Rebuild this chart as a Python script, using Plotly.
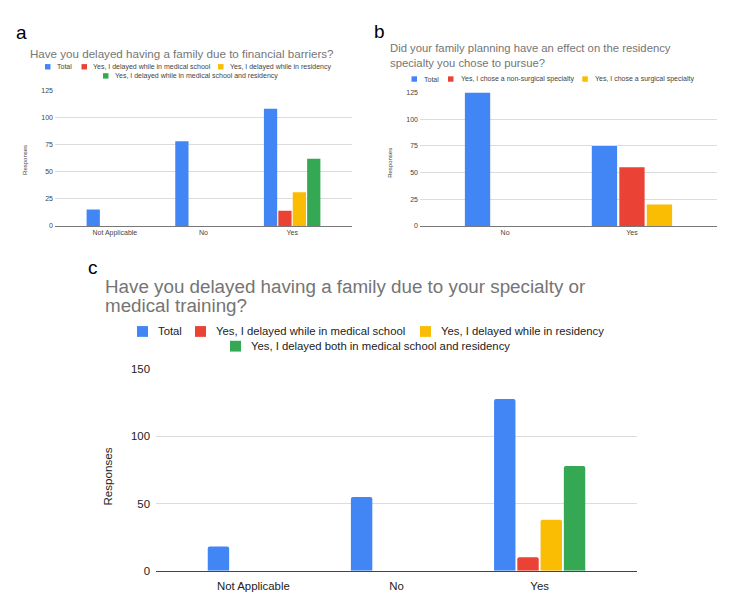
import plotly.graph_objects as go

W, H = 750, 610

# ---------------- data ----------------
cats_a = ["Not Applicable", "No", "Yes"]
names_a = ["Total", "Yes, I delayed while in medical school",
           "Yes, I delayed while in residency",
           "Yes, I delayed while in medical school and residency"]
a_total = [15, 78, 108]
a_med = [0, 0, 14]
a_res = [0, 0, 31]
a_both = [0, 0, 62]

cats_b = ["No", "Yes"]
names_b = ["Total", "Yes, I chose a non-surgical specialty", "Yes, I chose a surgical specialty"]
b_total = [125, 75]
b_nonsurg = [0, 55]
b_surg = [0, 20]

cats_c = ["Not Applicable", "No", "Yes"]
names_c = ["Total", "Yes, I delayed while in medical school",
           "Yes, I delayed while in residency",
           "Yes, I delayed both in medical school and residency"]
c_total = [18, 55, 128]
c_med = [0, 0, 10]
c_res = [0, 0, 38]
c_both = [0, 0, 78]

ticks_ab = [0, 25, 50, 75, 100, 125]
ticks_c = [0, 50, 100, 150]

title_a = ["Have you delayed having a family due to financial barriers?"]
title_b = ["Did your family planning have an effect on the residency",
           "specialty you chose to pursue?"]
title_c = ["Have you delayed having a family due to your specialty or",
           "medical training?"]

colors = ["#4285F4", "#EA4335", "#FBBC04", "#34A853"]
FONT = "Liberation Sans, Arial, sans-serif"


def px(x):
    return x / W


def py(y):
    return 1 - y / H


fig = go.Figure()

for vals, nm, col in zip([a_total, a_med, a_res, a_both], names_a, colors):
    fig.add_trace(go.Bar(x=cats_a, y=vals, name=nm, marker=dict(color=col, line=dict(width=0)),
                         xaxis="x", yaxis="y", showlegend=False))
for vals, nm, col in zip([b_total, b_nonsurg, b_surg], names_b, colors):
    fig.add_trace(go.Bar(x=cats_b, y=vals, name=nm, marker=dict(color=col, line=dict(width=0)),
                         xaxis="x2", yaxis="y2", showlegend=False))
for vals, nm, col in zip([c_total, c_med, c_res, c_both], names_c, colors):
    fig.add_trace(go.Bar(x=cats_c, y=vals, name=nm,
                         marker=dict(color=col, line=dict(width=0), cornerradius=2),
                         xaxis="x3", yaxis="y3", showlegend=False))

grid = "#dcdcdc"


def xax(dom, rng, anchor, fs, col, lc, so):
    return dict(domain=dom, range=rng, anchor=anchor, type="category", showgrid=False,
                showline=True, linecolor=lc, linewidth=1, ticks="", ticklabelstandoff=so,
                tickfont=dict(size=fs, color=col, family=FONT), fixedrange=True)


def yax(dom, rng, tv, anchor, fs, col, so):
    return dict(domain=dom, range=rng, anchor=anchor, tickvals=tv, showgrid=True,
                gridcolor=grid, gridwidth=1, zeroline=False, showline=False, ticks="",
                ticklabelstandoff=so,
                tickfont=dict(size=fs, color=col, family=FONT), fixedrange=True)


fig.update_layout(
    width=W, height=H, margin=dict(l=0, r=0, t=0, b=0),
    paper_bgcolor="white", plot_bgcolor="white",
    barmode="group", bargap=0.35, bargroupgap=0.08, showlegend=False,
    font=dict(family=FONT),
    xaxis=xax([px(55), px(352)], [-0.675, 2.675], "y", 7, "#444444", "#777777", 0),
    yaxis=yax([py(224.3), py(86)], [0, 125], ticks_ab, "x", 7, "#444444", 1),
    xaxis2=xax([px(420), px(717)], [-0.67, 1.67], "y2", 7, "#444444", "#777777", 0),
    yaxis2=yax([py(224.3), py(88.3)], [0, 125], ticks_ab, "x2", 7, "#444444", 1),
    xaxis3=xax([px(156), px(637)], [-0.68, 2.68], "y3", 11.4, "#222222", "#444444", 5),
    yaxis3=yax([py(576), py(370.7)], [0, 150], ticks_c, "x3", 11.4, "#222222", 5),
)

ann = []
shapes = []

# panel letters
for lt, x, y in [("a", 14, 27), ("b", 372, 26), ("c", 86, 267)]:
    ann.append(dict(text=lt, x=px(x), y=py(y), xref="paper", yref="paper", xanchor="left",
                    yanchor="middle", showarrow=False, font=dict(size=19, color="black", family=FONT)))

# titles
ann.append(dict(text=title_a[0], x=px(28), y=py(48), xref="paper", yref="paper", xanchor="left",
                yanchor="middle", showarrow=False, font=dict(size=11.6, color="#757575", family=FONT)))
ann.append(dict(text="<br>".join(title_b), x=px(388), y=py(51), xref="paper", yref="paper",
                xanchor="left", yanchor="middle", align="left", showarrow=False,
                font=dict(size=11.3, color="#757575", family=FONT)))
for t, y in zip(title_c, [286, 305]):
    ann.append(dict(text=t, x=px(103), y=py(y), xref="paper", yref="paper", xanchor="left",
                    yanchor="middle", showarrow=False, font=dict(size=18.8, color="#757575", family=FONT)))

# y-axis titles
for x, y, fs, col in [(25, 157, 6, "#444444"), (390, 160, 6, "#444444"), (108, 480, 11.6, "#222222")]:
    ann.append(dict(text="Responses", x=px(x), y=py(y), xref="paper", yref="paper", textangle=-90,
                    xanchor="center", yanchor="middle", showarrow=False,
                    font=dict(size=fs, color=col, family=FONT)))


# custom legends: (name, color, box_left_x, row_y)
def legend(items, box, gap, fs, col):
    for nm, c, x, y in items:
        shapes.append(dict(type="rect", xref="paper", yref="paper", x0=px(x), x1=px(x + box),
                           y0=py(y + box / 2), y1=py(y - box / 2), fillcolor=c, line=dict(width=0)))
        ann.append(dict(text=nm, x=px(x + box + gap), y=py(y), xref="paper", yref="paper",
                        xanchor="left", yanchor="middle", showarrow=False,
                        font=dict(size=fs, color=col, family=FONT)))


legend(list(zip(names_a, colors, [45, 81.5, 218, 103], [62, 62, 62, 71.3])), 5.5, 4, 7.0, "#444444")
legend(list(zip(names_b, colors, [411.5, 448, 582.3], [74.5, 74.5, 74.5])), 5.5, 5, 7.0, "#444444")
legend(list(zip(names_c, colors, [137, 195, 420, 230], [332, 332, 332, 347])), 11, 8, 11.3, "#222222")

fig.update_layout(annotations=ann, shapes=shapes)
fig.write_html("out.html")
